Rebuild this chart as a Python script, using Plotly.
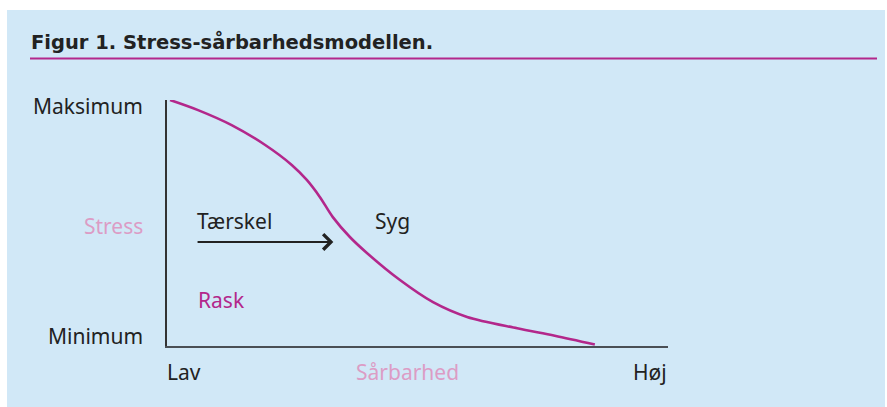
import plotly.graph_objects as go

# Data (sårbarhed vs. stress threshold) on a 0-10 scale
vulnerability = [0.06, 0.62, 1.29, 1.96, 2.49, 2.79, 3.05, 3.31, 3.65, 3.99, 4.65, 5.31, 5.99, 6.99, 7.74, 8.54]
stress_threshold = [10.0, 9.59, 8.98, 8.17, 7.36, 6.75, 6.06, 5.24, 4.43, 3.78, 2.68, 1.78, 1.18, 0.72, 0.42, 0.06]

title_text = "Figur 1. Stress-sårbarhedsmodellen."
y_labels = ["Minimum", "Maksimum"]
x_labels = ["Lav", "Høj"]
x_title = "Sårbarhed"
y_title = "Stress"
inside_labels = ["Tærskel", "Syg", "Rask"]

W, H = 887, 407
BLUE = "#D1E8F7"
MAGENTA = "#B3278B"
PINK = "#DC9CC5"
DARK = "#222222"
FONT = "Noto Sans"
FS = 21

def px(x):
    return x / W

def py(y):
    return 1 - y / H

fig = go.Figure()
fig.add_trace(go.Scatter(
    x=vulnerability, y=stress_threshold, mode="lines",
    line=dict(color=MAGENTA, width=2.6, shape="spline", smoothing=0.9),
    hoverinfo="skip", showlegend=False,
))

def label(text, x, y, xanchor, color=DARK, ref="paper", size=FS, family=FONT):
    d = dict(text=text, showarrow=False, xanchor=xanchor, yanchor="middle",
             font=dict(family=family, size=size, color=color))
    if ref == "paper":
        d.update(xref="paper", yref="paper", x=px(x), y=py(y))
    else:
        d.update(xref="x", yref="y", x=x, y=y)
    return d

ann = [
    label("<b>" + title_text + "</b>", 29, 42, "left", size=19.5, family="DejaVu Sans"),
    label(y_labels[1], 145, 106, "right"),
    label(y_labels[0], 145, 336, "right"),
    label(y_title, 145, 226, "right", color=PINK),
    label(x_labels[0], 165, 372, "left"),
    label(x_labels[1], 669, 372, "right"),
    label(x_title, 407, 372, "center", color=PINK),
    label(inside_labels[0], 0.56, 5.1, "left", ref="data"),
    label(inside_labels[1], 4.11, 5.1, "left", ref="data"),
    label(inside_labels[2], 0.58, 1.85, "left", color=MAGENTA, ref="data"),
    dict(text="", xref="x", yref="y", axref="x", ayref="y",
         x=3.32, y=4.23, ax=0.58, ay=4.23, showarrow=True,
         arrowhead=4, arrowsize=1.5, arrowwidth=2, arrowcolor=DARK),
]

shapes = [
    dict(type="rect", xref="paper", yref="paper", x0=px(7), x1=px(885), y0=0, y1=py(10),
         fillcolor=BLUE, line=dict(width=0), layer="below"),
    dict(type="line", xref="paper", yref="paper", x0=px(30), x1=px(877), y0=py(58.5), y1=py(58.5),
         line=dict(color=MAGENTA, width=2), layer="below"),
]

fig.update_layout(
    width=W, height=H, margin=dict(l=0, r=0, t=0, b=0),
    paper_bgcolor="white", plot_bgcolor="rgba(0,0,0,0)",
    xaxis=dict(domain=[px(167), px(668)], range=[0, 10], showgrid=False, zeroline=False,
               showticklabels=False, ticks="", showline=True, linecolor="#4a4f55", linewidth=2),
    yaxis=dict(domain=[py(346), py(100)], range=[0, 10], showgrid=False, zeroline=False,
               showticklabels=False, ticks="", showline=True, linecolor="#333333", linewidth=1.5),
    annotations=ann, shapes=shapes, showlegend=False,
)

fig.write_html("out.html", config={"displayModeBar": False},
               post_script="document.body.style.margin='0';")
